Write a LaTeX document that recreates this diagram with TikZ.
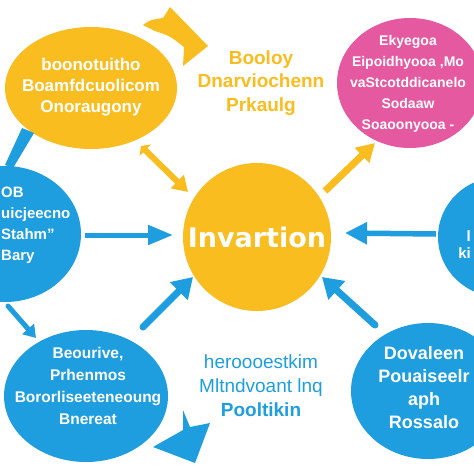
\documentclass[tikz,border=0pt]{standalone}
\usepackage{fontspec}
\setmainfont{Liberation Sans}
\newfontfamily\hubfont{DejaVu Sans}
\usetikzlibrary{arrows.meta,shapes.geometric}

\definecolor{sunyellow}{RGB}{249,189,32}
\definecolor{rosepink}{RGB}{229,89,161}
\definecolor{skyblue}{RGB}{30,158,222}

\tikzset{
  bubble/.style={ellipse, inner sep=0pt, draw=none},
  intext/.style={text=white, align=center, inner sep=0pt},
  yarrow/.style={draw=sunyellow, line width=7pt, -{Triangle[length=18pt,width=20pt]}},
  barrow/.style={draw=skyblue, line width=7pt, line cap=round, -{Triangle[length=20pt,width=24pt]}},
}

\begin{document}
\begin{tikzpicture}[x=1pt, y=-1pt]
    \useasboundingbox[fill=white] (0,0) rectangle (474,474);

    % bubbles
    \node[bubble, fill=sunyellow, minimum width=172pt, minimum height=122pt] (ideas) at (91,88) {};
    \node[bubble, fill=rosepink, minimum width=146pt, minimum height=130pt] (social) at (410,83) {};
    \node[bubble, fill=skyblue, minimum width=152pt, minimum height=136pt] (leftc) at (5,234) {};
    \node[bubble, fill=skyblue, minimum width=124pt, minimum height=120pt] (rightc) at (500,237) {};
    \node[bubble, fill=skyblue, minimum width=164pt, minimum height=132pt] (learn) at (86,396) {};
    \node[bubble, fill=skyblue, minimum width=154pt, minimum height=136pt] (dev) at (428,391) {};
    \node[circle, fill=sunyellow, minimum size=148pt, inner sep=0pt] (hub) at (257,237) {};

    % texts
    \node[intext, font=\hubfont\bfseries\fontsize{27}{30}\selectfont] (hubtxt) at (hub) {Invartion};
    \node[intext, font=\bfseries\fontsize{17}{21}\selectfont] (ideastxt) at (91,87)
        {boonotuitho\\Boamfdcuolicom\\Onoraugony};
    \node[intext, font=\bfseries\fontsize{14}{21}\selectfont] (socialtxt) at (408,84)
        {Ekyegoa\\Eipoidhyooa ,Mo\\vaStcotddicanelo\\Sodaaw\\Soaoonyooa -};
    \node[intext, anchor=west, align=left, font=\bfseries\fontsize{15}{21}\selectfont] (lefttxt) at (1,225)
        {OB\\uicjeecno\\Stahm''\\Bary};
    \node[intext, anchor=east, align=right, font=\bfseries\fontsize{15}{17}\selectfont] (righttxt) at (471,245)
        {l\\ki};
    \node[intext, font=\bfseries\fontsize{15.5}{22}\selectfont] (learntxt) at (88,386)
        {Beourive,\\Prhenmos\\Bororliseeteneoung\\Bnereat};
    \node[intext, font=\bfseries\fontsize{18}{23}\selectfont] (devtxt) at (424,388)
        {Dovaleen\\Pouaiseelr\\aph\\Rossalo};
    \node[text=sunyellow, align=center, inner sep=0pt, font=\bfseries\fontsize{19}{23.5}\selectfont] (toptxt) at (261,83)
        {Booloy\\Dnarviochenn\\Prkaulg};
    \node[text=skyblue, align=center, inner sep=0pt, font=\fontsize{19}{24}\selectfont] (bottxt) at (261,386)
        {heroooestkim\\Mltndvoant lnq\\\textbf{Pooltikin}};

    % arrow ends
    \coordinate (ideasout) at (141,146);
    \coordinate (hubnw) at (188,192);
    \coordinate (hubne) at (325,191);
    \coordinate (socialin) at (375,143);
    \coordinate (leftout) at (85,235);
    \coordinate (hubw) at (173,235);
    \coordinate (rightout) at (436,234);
    \coordinate (hube) at (345,233);
    \coordinate (learnout) at (143,327);
    \coordinate (hubsw) at (193,277);
    \coordinate (devout) at (375,325);
    \coordinate (hubse) at (322,277);
    \coordinate (leftdown) at (8,306);
    \coordinate (learnin) at (36,338);

    \draw[yarrow, line width=6pt, {Triangle[length=6pt,width=16pt]}-{Triangle[length=15pt,width=18pt]}] (ideasout) -- (hubnw);
    \draw[yarrow] (hubne) -- (socialin);
    \draw[barrow, line width=5pt, line cap=butt, -{Triangle[length=25pt,width=19pt]}] (leftout) -- (hubw);
    \draw[barrow, line width=5.5pt, line cap=butt, -{Triangle[length=22pt,width=21pt]}] (rightout) -- (hube);
    \draw[barrow] (learnout) -- (hubsw);
    \draw[barrow] (devout) -- (hubse);
    \draw[barrow, line width=5pt, -{Triangle[length=12pt,width=15pt]}] (leftdown) -- (learnin);

    % loose tips
    \fill[sunyellow] (143,25) .. controls (150,20) .. (163,18) -- (170,7) -- (208,46) -- (183,66)
        -- (184,47) .. controls (170,36) .. (155,31) -- cycle;
    \fill[skyblue] (183,410) -- (190,427) -- (210,423) -- (195,463) -- (153,447) -- (183,430) -- cycle;
    \fill[skyblue] (22,128) -- (34,133) -- (13,168) -- (5,165) -- cycle;

\end{tikzpicture}
\end{document}
